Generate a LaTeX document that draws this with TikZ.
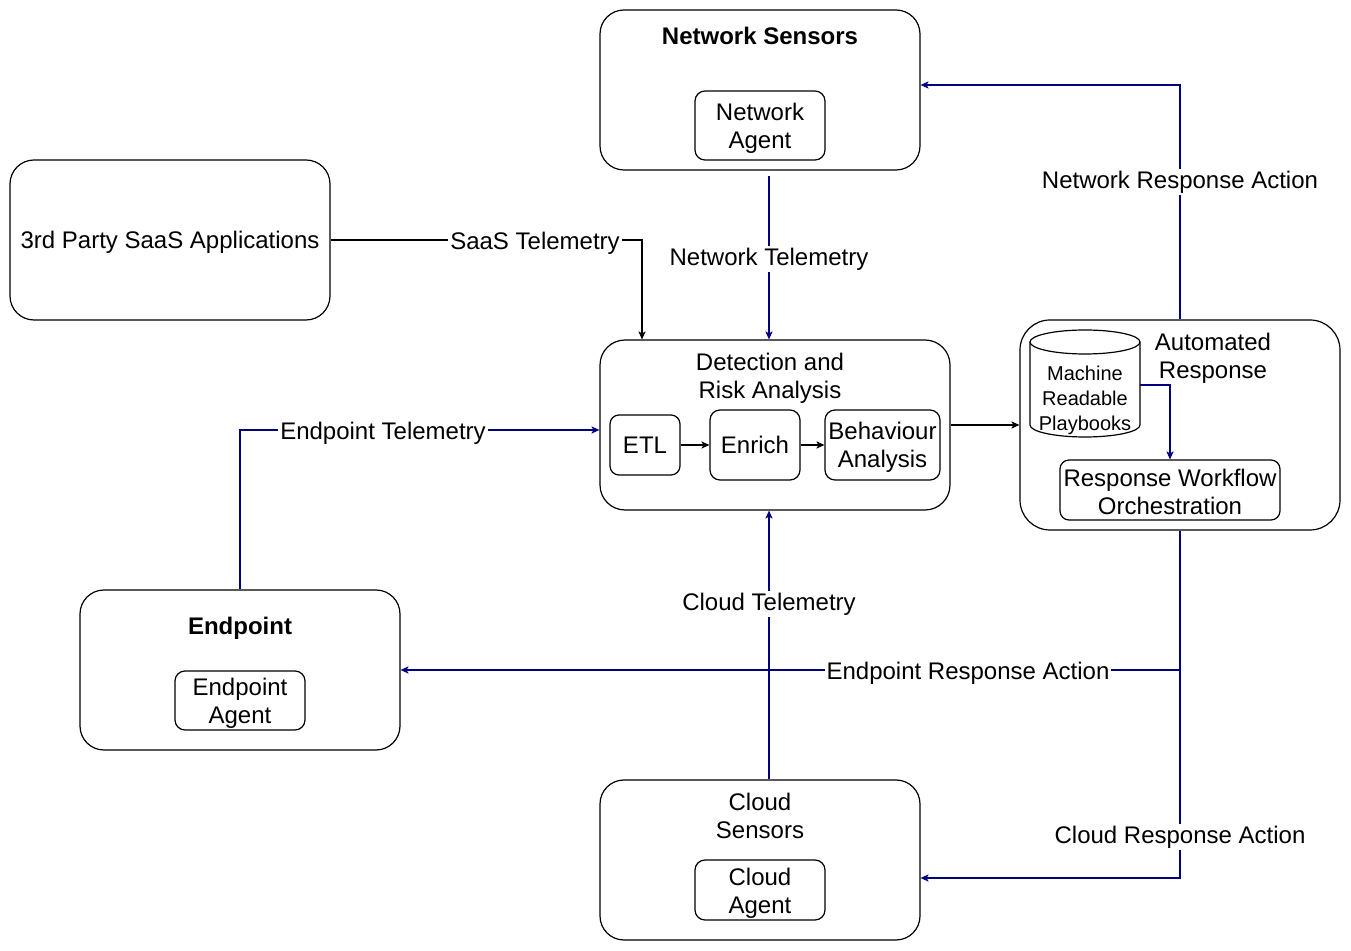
\documentclass[tikz,border=0pt]{standalone}
\usepackage{fontspec}
\setmainfont{Liberation Sans}
\usetikzlibrary{arrows.meta}
\definecolor{navyc}{RGB}{0,0,128}
\begin{document}
\begin{tikzpicture}[x=0.5pt,y=-0.5pt,
  font=\fontsize{12pt}{14pt}\selectfont,
  bigbox/.style={draw,line width=0.6pt,rounded corners=12pt,minimum width=160pt,minimum height=80pt,inner sep=0pt},
  smallbox/.style={draw,line width=0.6pt,rounded corners=5pt,inner sep=0pt,align=center},
  title/.style={align=center,inner sep=0pt},
  lbl/.style={fill=white,inner sep=1pt},
  blkarr/.style={draw=black,line width=0.6pt,-{Stealth[length=4pt,width=3.6pt,inset=1pt]}},
  navarr/.style={draw=navyc,line width=0.6pt,-{Stealth[length=4pt,width=3.6pt,inset=1pt]}},
  navline/.style={draw=navyc,line width=0.6pt}]
\useasboundingbox (0,0) rectangle (1351,951);
% big boxes
\node[bigbox] (ns) at (760,90) {};
\node[title,font=\fontsize{12pt}{14pt}\selectfont\bfseries] (nst) at (760,36) {Network Sensors};
\node[smallbox,minimum width=65pt,minimum height=34.5pt] (na) at (760,125.5) {};
\node[title] (nat) at (760,128) {Network\\Agent};

\node[bigbox] (saas) at (170,240) {};
\node[title] (saast) at (170,242.5) {3rd Party SaaS Applications};

\node[bigbox,minimum width=175pt,minimum height=85pt,rounded corners=12.5pt] (det) at (775,425) {};
\node[title] (dett) at (770,378) {Detection and\\Risk Analysis};
\node[smallbox,minimum width=35pt,minimum height=30pt,rounded corners=4.5pt] (etl) at (645,445) {ETL};
\node[smallbox,minimum width=45pt,minimum height=35pt] (enr) at (755,445) {Enrich};
\node[smallbox,minimum width=57.5pt,minimum height=35pt] (beh) at (882.5,445) {};
\node[title] (beht) at (882.5,447.5) {Behaviour\\Analysis};

\node[bigbox,minimum height=105pt,rounded corners=15pt] (ar) at (1180,425) {};
\node[title] (art) at (1213,358) {Automated\\Response};
% cylinder
\draw[line width=0.6pt,fill=white] (1030,342) -- (1030,425) arc[start angle=180,end angle=360,x radius=27.5pt,y radius=6pt] -- (1140,342);
\draw[line width=0.6pt] (1085,342) ellipse[x radius=27.5pt,y radius=6pt];
\node[title,font=\fontsize{10pt}{12.5pt}\selectfont] (cylt) at (1085,400) {Machine\\Readable\\Playbooks};
\coordinate (cylR) at (1140,385);
\node[smallbox,minimum width=110pt,minimum height=30pt,rounded corners=4.5pt] (rwo) at (1170,490) {};
\node[title] (rwot) at (1170,491.5) {Response Workflow\\Orchestration};

\node[bigbox] (ep) at (240,670) {};
\node[title,font=\fontsize{12pt}{14pt}\selectfont\bfseries] (ept) at (240,628) {Endpoint};
\node[smallbox,minimum width=65pt,minimum height=29.5pt] (epa) at (240,700.5) {};
\node[title] (epat) at (240,703.5) {Endpoint\\Agent};

\node[bigbox] (cs) at (760,860) {};
\node[title] (cst) at (760,816) {Cloud\\Sensors};
\node[smallbox,minimum width=65pt,minimum height=30pt] (ca) at (760,890) {};
\node[title] (cat) at (760,893) {Cloud\\Agent};

% coordinates
\coordinate (cSaaS) at (642,240);
\coordinate (cNT) at (769,175);
\coordinate (cET) at (240,430);
\coordinate (cCy) at (1170,385);
\coordinate (cNR) at (1180,85);
\coordinate (cER) at (1180,670);
\coordinate (cCR) at (1180,878);

% connectors
\draw[blkarr] (saas.east) -- (cSaaS) -- (cSaaS |- det.north);
\draw[navarr,shorten <=2.5pt] (ns.south -| cNT) -- (cNT |- det.north);
\draw[navarr] (ep.north) -- (cET) -- (cET -| det.west);
\draw[navarr] (cs.north -| cNT) -- (cNT |- det.south);
\draw[blkarr] (det.east) -- (det.east -| ar.west);
\draw[blkarr] (etl.east) -- (enr.west);
\draw[blkarr] (enr.east) -- (beh.west);
\draw[navarr] (cylR) -- (cCy) -- (cCy |- rwo.north);
\draw[navarr] (ar.north) -- (cNR) -- (cNR -| ns.east);
\draw[navline] (ar.south) -- (cER);
\draw[navarr] (cER) -- (cER -| ep.east);
\draw[navarr] (cER) -- (cCR) -- (cCR -| cs.east);

% labels
\node[lbl] (lSaaS) at (535,243) {SaaS Telemetry};
\node[lbl] (lNT) at (769,259) {Network Telemetry};
\node[lbl] (lET) at (383,433) {Endpoint Telemetry};
\node[lbl] (lCT) at (769,604) {Cloud Telemetry};
\node[lbl] (lNR) at (1180,182) {Network Response Action};
\node[lbl] (lER) at (968,673) {Endpoint Response Action};
\node[lbl] (lCR) at (1180,837) {Cloud Response Action};
\end{tikzpicture}
\end{document}
